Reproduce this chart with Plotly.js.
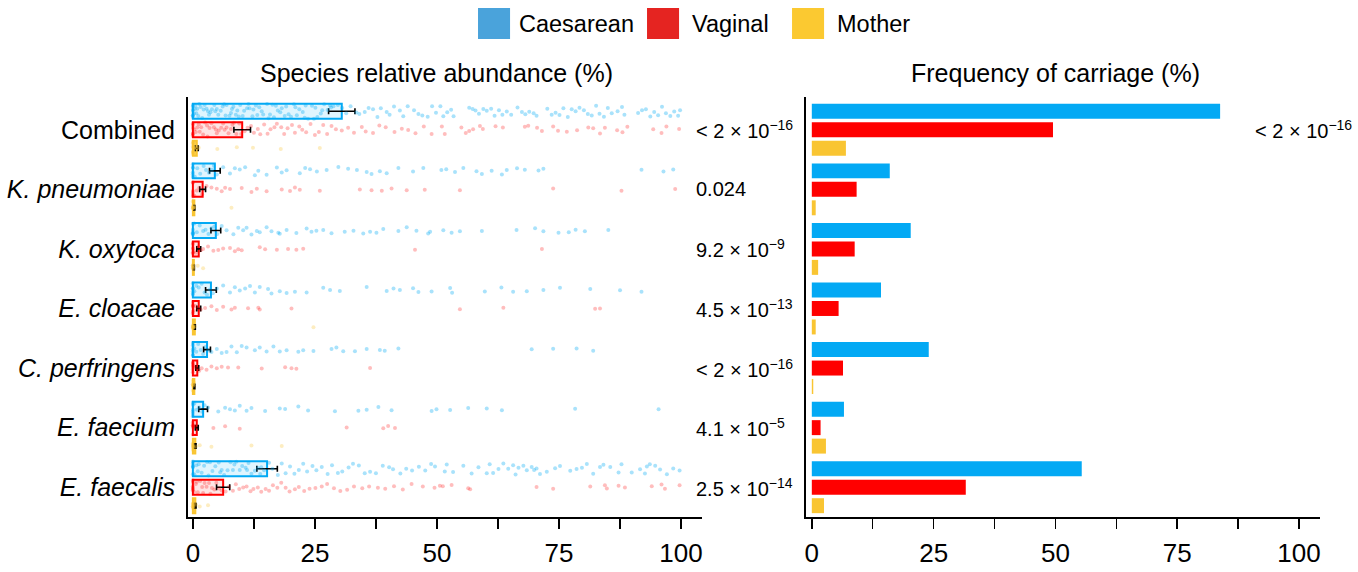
<!DOCTYPE html>
<html><head><meta charset="utf-8">
<script src="https://cdn.plot.ly/plotly-3.0.1.min.js"></script>
<style>html,body{margin:0;padding:0;background:#fff}#chart{width:1358px;height:572px}</style>
</head><body><div id="chart"></div>
<script>
// ---------- data ----------
const species = ['Combined','K. pneumoniae','K. oxytoca','E. cloacae','C. perfringens','E. faecium','E. faecalis'];
const speciesLabels = ['Combined','<i>K. pneumoniae</i>','<i>K. oxytoca</i>','<i>E. cloacae</i>','<i>C. perfringens</i>','<i>E. faecium</i>','<i>E. faecalis</i>'];
const groups = ['Caesarean','Vaginal','Mother'];

// mean relative abundance (%) and SEM
const abundanceMeanC = [30.5, 4.5, 4.7, 3.7, 2.9, 2.1, 15.2];
const abundanceMeanV = [10.1, 2.0, 1.2, 1.2, 0.9, 0.8, 6.2];
const abundanceMeanM = [0.8, 0.3, 0.2, 0.4, 0.3, 0.5, 0.5];
const abundanceSemC = [2.7, 1.1, 1.0, 1.1, 0.7, 0.9, 2.1];
const abundanceSemV = [1.7, 0.6, 0.4, 0.4, 0.3, 0.3, 1.35];
const abundanceSemM = [0.3, 0.1, 0.1, 0.1, 0.1, 0.15, 0.15];

// frequency of carriage (%)
const carriageC = [83.8, 16.0, 20.3, 14.2, 24.0, 6.6, 55.4];
const carriageV = [49.5, 9.2, 8.8, 5.5, 6.4, 1.8, 31.6];
const carriageM = [7.0, 0.8, 1.3, 0.8, 0.3, 2.9, 2.5];

// p-values
const pAbundance = ['&lt; 2 × 10<sup>−16</sup>','0.024','9.2 × 10<sup>−9</sup>','4.5 × 10<sup>−13</sup>','&lt; 2 × 10<sup>−16</sup>','4.1 × 10<sup>−5</sup>','2.5 × 10<sup>−14</sup>'];
const pCarriageCombined = '&lt; 2 × 10<sup>−16</sup>';

// axis ticks
const xTickVals = [0, 25, 50, 75, 100];
const xMinorTickVals = [12.5, 37.5, 62.5, 87.5];

// per-sample relative abundances (%)
const combinedC = [0,0,0,0,0,0,0,0.2,0.4,0.7,0.9,1.3,1.6,1.9,2.4,2.8,3.1,3.3,3.9,4.4,4.6,5.2,5.7,6.1,6.4,6.9,7.5,7.8,8.3,8.8,9.1,9.7,10.2,10.5,11.1,11.6,12.2,12.4,12.9,13.6,14.1,14.4,15.2,15.8,16.3,16.6,17.4,17.9,18.2,18.8,19.6,20.1,20.7,21.3,21.8,22.5,23.1,23.6,24.4,25.1,25.5,26.2,26.9,27.6,28.3,28.8,29.7,0.5,1.1,2.2,3.6,4.9,6.7,8.0,9.4,11.4,13.2,15.5,17.0,19.1,21.0,22.9,24.8,26.5,28.1,30.6,31.4,32.3,33.5,34.1,35.2,36.0,36.9,37.8,38.5,39.7,40.3,41.2,42.4,43.1,44.0,45.3,46.2,47.0,48.1,49.0,49.8,50.7,51.3,52.1,52.9,53.4,56.6,57.3,57.9,58.6,59.5,60.2,61.1,61.8,62.7,63.4,64.3,65.2,66.5,67.4,68.1,68.9,69.8,70.4,72.6,73.5,74.3,75.1,75.9,76.8,77.6,78.4,79.2,80.1,80.9,81.7,82.6,83.3,84.2,85.0,85.8,87.0,87.9,88.4,91.2,92.0,92.8,93.7,94.5,95.3,96.1,96.9,97.8,98.6,99.4,99.8];
const combinedV = [0,0,0,0,0,0,0.3,0.6,0.9,1.2,1.7,2.1,2.5,2.9,3.4,3.8,4.3,4.7,5.3,5.8,6.2,6.9,7.3,7.8,8.4,8.9,9.5,9.9,1.4,3.0,4.9,6.5,8.1,10.6,11.2,11.9,12.5,13.3,13.8,14.6,15.3,15.9,16.7,17.2,18.1,18.7,19.4,20.3,20.9,21.8,22.4,23.2,24.1,25.0,25.8,26.7,27.5,28.4,29.3,30.5,31.8,33.0,34.6,35.4,36.9,38.2,39.5,41.3,42.8,44.1,45.6,47.3,48.9,51.0,51.6,55.0,55.9,56.6,57.4,58.8,59.4,62.0,63.5,68.0,68.7,70.5,71.5,73.8,74.8,76.6,78.7,81.0,82.0,83.4,84.4,86.9,88.0,89.0,94.3,96.0,97.0,99.6];
const combinedM = [0,0,0,0,0,0,0.1,0.2,0.3,0.5,0.8,1.2,5.0,9.0,12.3,18.0,26.0];
const kpnC = [0,0,0,0,0,0,0.4,0.9,1.5,2.2,2.7,3.3,3.9,4.3,4.9,6.2,7.6,8.6,9.6,10.7,12.7,13.4,15.1,17.2,18.2,19.2,21.9,23.0,24.0,25.4,27.4,29.8,31.8,33.6,35.6,36.6,38.3,39.7,42.1,45.1,47.2,50.9,51.9,53.7,55.4,58.1,59.2,61.2,63.3,64.3,66.4,68.0,70.8,71.8,91.9,96.4,98.4];
const kpnV = [0,0,0,0,0,0,0.3,0.8,1.3,1.9,2.8,3.8,4.9,5.9,6.6,7.6,10.0,12.0,13.1,15.1,18.2,19.9,20.9,21.9,26.0,34.2,36.6,38.7,40.7,43.8,47.5,54.7,73.8,87.8,98.8];
const kpnM = [0,0,0,0,0,0.1,0.3,7.9];
const koxC = [0,0,0,0,0,0,0.3,0.8,1.4,2.1,2.6,3.2,3.8,4.4,5.0,5.9,6.9,8.3,9.3,10.3,11.0,12.0,13.1,13.7,15.1,16.1,17.5,17.8,19.2,21.2,23.3,24.3,25.3,26.7,28.4,31.1,32.9,34.9,36.3,37.6,39.0,42.1,43.8,45.8,48.2,48.6,51.3,53.0,54.7,59.2,66.3,70.1,71.8,74.9,77.0,78.4,80.3,85.1];
const koxV = [0,0,0,0,0,0,0.2,0.6,1.1,1.6,2.1,3.1,4.2,5.2,6.2,7.6,8.6,9.3,10.0,13.7,14.8,17.2,19.5,21.2,22.6,45.5,71.5];
const koxM = [0,0,0,0,0,0.1,1.0,2.1];
const eclC = [0,0,0,0,0,0,0.3,0.7,1.2,1.8,2.4,2.9,3.5,4.1,4.9,6.2,7.6,8.6,9.6,10.7,11.7,12.7,13.7,15.4,16.1,17.8,19.2,20.9,23.3,26.7,28.1,30.1,35.6,39.7,41.1,42.4,45.1,46.2,48.9,52.7,53.1,59.8,63.2,65.6,68.4,71.8,75.2,81.4,87.5,91.9];
const eclV = [0,0,0,0,0,0,0.2,0.5,1.0,1.6,2.5,3.8,4.9,6.2,7.9,8.6,11.3,13.4,13.7,20.2,54.7,63.6,82.4,83.4];
const eclM = [0,0,0,0,0,0.1,0.4,24.7];
const cpeC = [0,0,0,0,0,0,0.3,0.7,1.1,1.6,2.1,2.6,3.1,3.8,4.9,5.9,6.9,7.9,9.0,10.0,11.0,12.7,13.7,15.1,16.5,17.8,19.2,21.6,22.6,24.7,28.4,29.4,30.8,33.2,35.6,38.3,39.3,42.1,69.4,73.8,78.6,82.0];
const cpeV = [0,0,0,0,0,0,0.2,0.5,0.9,1.3,1.8,2.8,3.8,4.9,5.9,7.2,9.3,14.1,18.9,20.2,21.2,36.3];
const cpeM = [0,0,0,0,0,0.1,0.2];
const efmC = [0,0,0,0,0,0,0.3,0.8,1.3,1.9,2.4,3.1,5.2,6.6,7.6,8.6,9.6,11.0,12.0,14.8,17.8,18.9,21.6,23.6,29.1,33.9,35.6,38.0,40.7,48.9,49.9,52.7,56.4,60.2,63.3,78.3,95.4];
const efmV = [0,0,0,0,0,0.2,0.5,4.2,6.6,9.6,31.5,39.0,40.0,41.4];
const efmM = [0,0,0,0,0,0.2,0.6,1.4,3.8,12.0,18.2];
const efsC = [0,0,0,0,0,0,0.3,0.7,1.2,1.8,2.3,2.9,3.5,4.0,4.6,5.3,5.9,6.4,7.1,7.7,8.2,8.9,9.6,10.1,10.8,11.4,12.0,12.7,13.3,14.0,14.6,1.0,3.2,5.6,8.5,11.1,13.8,15.6,16.3,17.4,18.2,19.0,19.9,20.8,21.7,22.6,23.4,24.5,25.3,26.4,27.6,28.5,29.7,30.6,31.9,32.8,34.0,35.2,36.3,37.5,38.9,40.2,41.0,42.5,43.7,44.9,46.3,47.6,48.8,49.6,51.6,52.0,53.3,55.4,57.1,58.5,60.2,60.8,61.5,62.6,63.6,64.6,65.6,66.1,66.7,67.7,68.4,69.4,69.9,70.4,71.1,72.5,74.2,75.2,77.3,78.6,79.7,80.7,82.0,83.4,84.1,85.5,87.2,87.8,89.9,91.6,92.6,93.0,93.6,94.7,95.7,97.1,98.4,99.7];
const efsV = [0,0,0,0,0,0,0.2,0.6,1.0,1.5,1.9,2.4,2.8,3.3,3.9,4.4,4.8,5.4,5.9,0.8,2.1,3.6,6.7,7.4,8.2,8.8,9.5,10.3,11.0,11.8,12.4,13.3,14.0,14.9,15.6,16.4,17.3,18.1,19.0,19.8,20.9,21.7,22.8,23.9,25.1,26.4,27.5,28.9,30.2,31.6,33.0,34.7,36.1,37.9,39.4,41.2,43.0,44.8,47.1,49.5,51.2,50.6,53.0,56.4,56.8,70.4,73.8,81.4,84.4,84.8,87.2,88.5,94.0,96.0,96.7,99.7];
const efsM = [0,0,0,0,0,0.1,0.3,0.6,1.4,3.1];

// ---------- styles ----------
const barColors = ['#03a9f4', '#ff0000', '#f9c532'];
const barFills = ['rgba(3,169,244,0.12)', 'rgba(255,0,0,0.10)', 'rgba(249,197,50,0.85)'];
const pointOpacity = [0.34, 0.26, 0.3];
const legendColors = ['#4aa3db', '#e52421', '#fbc931'];
const FONT = 'Liberation Sans, Arial, Helvetica, sans-serif';

const leftMeans = [abundanceMeanC, abundanceMeanV, abundanceMeanM];
const leftSems = [abundanceSemC, abundanceSemV, abundanceSemM];
const rightVals = [carriageC, carriageV, carriageM];
const pointSets = [
  [combinedC, kpnC, koxC, eclC, cpeC, efmC, efsC],
  [combinedV, kpnV, koxV, eclV, cpeV, efmV, efsV],
  [combinedM, kpnM, koxM, eclM, cpeM, efmM, efsM]
];

const traces = [];
groups.forEach((g, i) => {
  traces.push({
    type: 'bar', orientation: 'h', name: g, y: species, x: leftMeans[i],
    xaxis: 'x', yaxis: 'y',
    marker: {color: barFills[i], line: {color: barColors[i], width: 2}},
    error_x: {type: 'data', array: leftSems[i], symmetric: true, color: '#000', thickness: 1.6, width: 3},
    showlegend: false, hoverinfo: 'skip'
  });
});
groups.forEach((g, i) => {
  const xs = [], ys = [];
  species.forEach((s, k) => { pointSets[i][k].forEach(v => { xs.push(v); ys.push(s); }); });
  traces.push({
    type: 'box', orientation: 'h', name: g, x: xs, y: ys, xaxis: 'x', yaxis: 'y',
    boxpoints: 'all', jitter: 1, pointpos: 0,
    fillcolor: 'rgba(0,0,0,0)', line: {width: 0, color: 'rgba(0,0,0,0)'}, whiskerwidth: 0,
    marker: {color: barColors[i], size: 4, opacity: pointOpacity[i], line: {width: 0}},
    showlegend: false, hoverinfo: 'skip'
  });
});
groups.forEach((g, i) => {
  traces.push({
    type: 'bar', orientation: 'h', name: g, y: species, x: rightVals[i],
    xaxis: 'x2', yaxis: 'y2',
    marker: {color: barColors[i], line: {width: 0}},
    showlegend: false, hoverinfo: 'skip'
  });
});

const xAxisBase = {
  tickvals: xTickVals, ticks: 'outside', ticklen: 10, tickwidth: 1.5, tickcolor: '#000',
  showline: true, linewidth: 2, linecolor: '#000', showgrid: false, zeroline: false,
  tickfont: {family: FONT, size: 26, color: '#000'}, ticklabelstandoff: 2,
  minor: {tickvals: xMinorTickVals, ticks: 'outside', ticklen: 10, tickwidth: 1.5, tickcolor: '#000', showgrid: false},
  fixedrange: true
};
const yAxisBase = {
  type: 'category', categoryorder: 'array', categoryarray: species, range: [6.5, -0.55],
  showline: true, linewidth: 2, linecolor: '#000', ticks: '', showgrid: false, zeroline: false,
  fixedrange: true
};

const annotations = [
  {xref: 'x', x: 50, yref: 'paper', y: 1.057, text: 'Species relative abundance (%)', showarrow: false,
   xanchor: 'center', yanchor: 'middle', font: {family: FONT, size: 25, color: '#000'}},
  {xref: 'x2', x: 50, yref: 'paper', y: 1.057, text: 'Frequency of carriage (%)', showarrow: false,
   xanchor: 'center', yanchor: 'middle', font: {family: FONT, size: 25, color: '#000'}}
];
species.forEach((s, k) => {
  annotations.push({xref: 'paper', x: 0.4470, yref: 'y', y: s, text: pAbundance[k], showarrow: false,
    xanchor: 'left', yanchor: 'middle', font: {family: FONT, size: 20, color: '#000'}});
});
annotations.push({xref: 'paper', x: 0.9408, yref: 'y', y: species[0], text: pCarriageCombined, showarrow: false,
  xanchor: 'left', yanchor: 'middle', font: {family: FONT, size: 20, color: '#000'}});

// legend (drawn as shapes + labels to get the large swatches)
const legendSwatchX = [0.2562, 0.4055, 0.5336];
const legendTextX = [0.2906, 0.4435, 0.5716];
const shapes = [];
groups.forEach((g, i) => {
  shapes.push({type: 'rect', xref: 'paper', yref: 'paper', x0: legendSwatchX[i], x1: legendSwatchX[i] + 0.0283,
    y0: 1.138, y1: 1.212, fillcolor: legendColors[i], line: {width: 0}});
  annotations.push({xref: 'paper', yref: 'paper', x: legendTextX[i], y: 1.1738, text: g, showarrow: false,
    xanchor: 'left', yanchor: 'middle', font: {family: FONT, size: 23.5, color: '#000'}});
});

const layout = {
  width: 1358, height: 572,
  margin: {l: 188, r: 38, t: 97, b: 55},
  paper_bgcolor: '#fff', plot_bgcolor: '#fff',
  font: {family: FONT, color: '#000'},
  showlegend: false,
  barmode: 'group', bargap: 0.07, bargroupgap: 0.19,
  boxmode: 'group', boxgap: 0.07, boxgroupgap: 0.19,
  xaxis: Object.assign({}, xAxisBase, {domain: [0, 0.4541], range: [-1.0, 104.3], anchor: 'y'}),
  xaxis2: Object.assign({}, xAxisBase, {domain: [0.5459, 1], range: [-1.2, 104.3], anchor: 'y2'}),
  yaxis: Object.assign({}, yAxisBase, {anchor: 'x', tickvals: species, ticktext: speciesLabels,
    tickfont: {family: FONT, size: 25, color: '#000'}, ticklabelstandoff: 6}),
  yaxis2: Object.assign({}, yAxisBase, {anchor: 'x2', showticklabels: false}),
  annotations: annotations,
  shapes: shapes
};

Plotly.newPlot('chart', traces, layout, {displayModeBar: false, staticPlot: true});
</script>
</body></html>
